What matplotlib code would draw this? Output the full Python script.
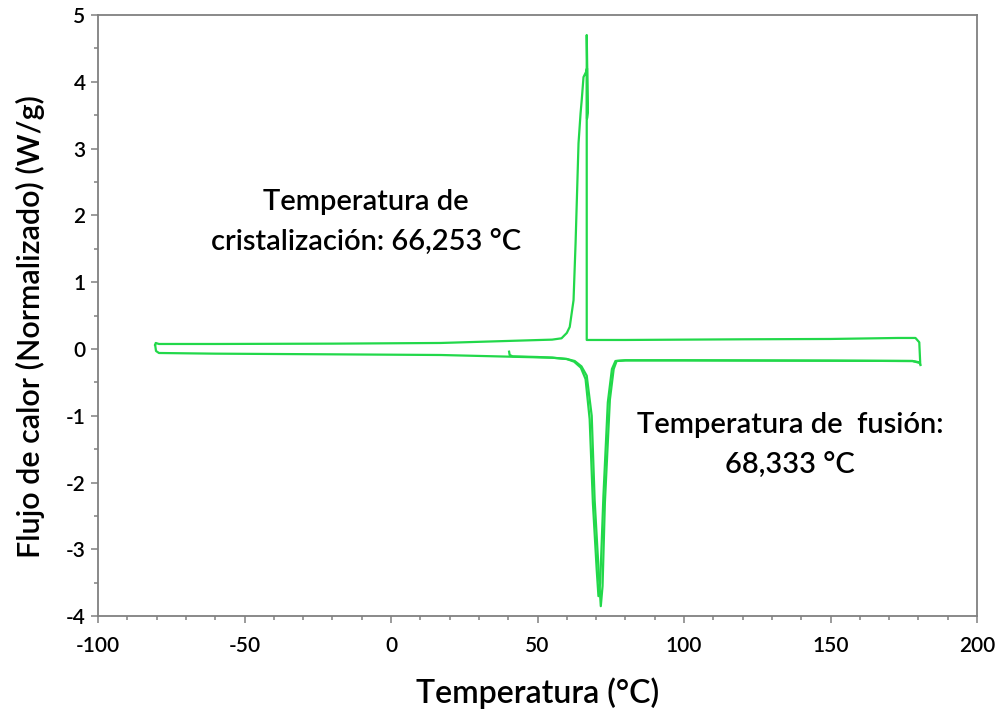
import matplotlib.pyplot as plt
from matplotlib.ticker import MultipleLocator

plt.rcParams['font.family'] = ['Lato', 'DejaVu Sans']
plt.rcParams['axes.unicode_minus'] = False

# cooling run, 180 -> -80 (exothermic peak up)
temp_cool = [180.6, 180.3, 179.0, 173.0, 150, 120, 100, 80, 70, 66.8,
             66.8, 66.8, 67.2, 66.9, 66.9, 66.6, 65.7, 65.1, 64.7, 64.0,
             63.0, 62.3, 61.0, 60.0, 58.2, 55, 51, 17, -20, -60, -79.2,
             -80.3, -80.5]
flow_cool = [-0.19, 0.10, 0.165, 0.165, 0.15, 0.145, 0.14, 0.135, 0.135, 0.135,
             3.0, 4.70, 3.55, 3.45, 4.2, 4.15, 4.07, 3.73, 3.53, 3.08,
             1.59, 0.73, 0.33, 0.24, 0.16, 0.14, 0.135, 0.09, 0.08, 0.075, 0.075,
             0.09, 0.06]

# first heating run, -80 -> 180 (endothermic peak down)
temp_heat1 = [-80.5, -80.2, -79.2, -60, -20, 17, 45, 55, 60, 62.7, 65, 66.8,
              68.5, 69.5, 70.9, 71.6, 72.2, 73.0, 74.7, 76.0, 77.0, 80,
              100, 150, 178, 180.5, 180.6]
flow_heat1 = [0.06, -0.03, -0.06, -0.07, -0.08, -0.09, -0.12, -0.13, -0.15, -0.18,
              -0.26, -0.40, -1.0, -2.26, -3.35, -3.85, -3.55, -2.30, -0.76, -0.30,
              -0.18, -0.17, -0.17, -0.175, -0.18, -0.20, -0.22]

# second heating run, starts at 40
temp_heat2 = [40.3, 40.5, 41.5, 50, 55, 60, 62.5, 64.8, 66.4, 67.8, 68.9,
              70.2, 70.8, 71.4, 72.5, 74.0, 75.4, 76.6, 80, 100, 150, 178,
              180.5, 180.7]
flow_heat2 = [-0.04, -0.09, -0.11, -0.12, -0.13, -0.15, -0.19, -0.28, -0.45,
              -1.05, -2.3, -3.3, -3.7, -3.5, -2.2, -0.8, -0.3, -0.18, -0.17,
              -0.17, -0.175, -0.18, -0.21, -0.24]

green = '#22d84a'

fig = plt.figure(figsize=(10, 7.14), dpi=100)
ax = fig.add_axes([0.098, 0.137, 0.879, 0.842])

ax.plot(temp_heat1, flow_heat1, color=green, lw=1.6)
ax.plot(temp_heat2, flow_heat2, color=green, lw=1.6)
ax.plot(temp_cool, flow_cool, color=green, lw=1.6)

ax.set_xlim(-100, 200)
ax.set_ylim(-4, 5)
ax.xaxis.set_major_locator(MultipleLocator(50))
ax.xaxis.set_minor_locator(MultipleLocator(10))
ax.yaxis.set_major_locator(MultipleLocator(1))
ax.yaxis.set_minor_locator(MultipleLocator(0.5))

for s in ax.spines.values():
    s.set_color('#808080')
    s.set_linewidth(1.3)
ax.tick_params(which='both', direction='out', color='#808080', width=1.1,
               labelsize=15)
ax.tick_params(which='major', length=5)
ax.tick_params(which='minor', length=3)
ax.tick_params(axis='x', pad=9)
ax.tick_params(axis='y', pad=4)
for lab in ax.get_xticklabels() + ax.get_yticklabels():
    lab.set_fontweight('semibold')

ax.set_xlabel('Temperatura (°C)', fontsize=23, fontweight='semibold', labelpad=16)
ax.set_ylabel('Flujo de calor (Normalizado) (W/g)', fontsize=22,
              fontweight='semibold')
ax.yaxis.set_label_coords(-0.060, 0.481)

ax.text(-8.6, 1.90, 'Temperatura de\ncristalización: 66,253 °C', fontsize=21,
        fontweight='semibold', ha='center', va='center',
        multialignment='center', linespacing=1.65)
ax.text(136.3, -1.44, 'Temperatura de  fusión:\n68,333 °C', fontsize=21,
        fontweight='semibold', ha='center', va='center',
        multialignment='center', linespacing=1.65)

fig.savefig('out.png', dpi=100)
